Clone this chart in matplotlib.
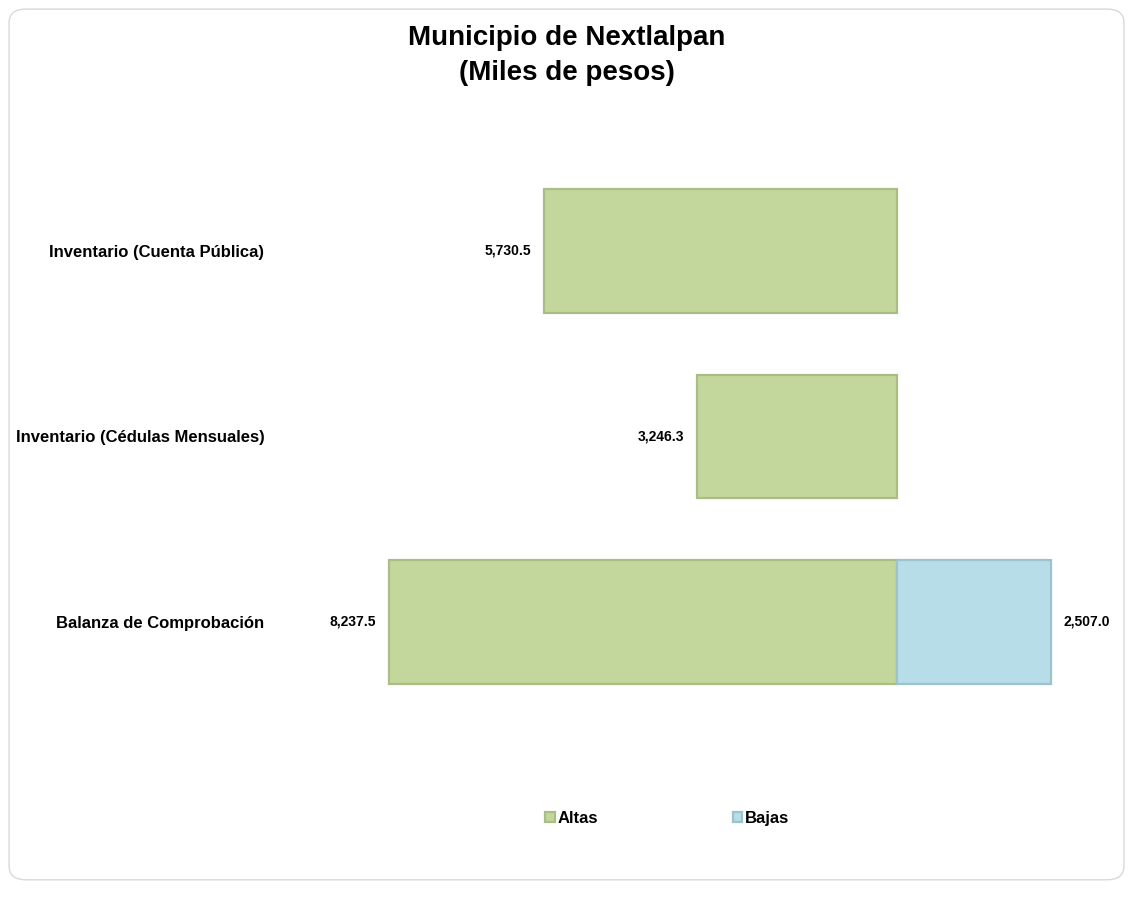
import matplotlib.pyplot as plt
import numpy as np
from matplotlib.patches import FancyBboxPatch

plt.rcParams['font.family'] = ['Liberation Sans', 'DejaVu Sans']

# Data (bottom to top)
categorias = ['Balanza de Comprobación', 'Inventario (Cédulas Mensuales)', 'Inventario (Cuenta Pública)']
altas = [8237.5, 3246.3, 5730.5]
bajas = [2507.0, 0.0, 0.0]

verde = '#c3d69b'
verde_borde = '#a9bd84'
azul = '#b7dde8'
azul_borde = '#9cc2cc'

fig = plt.figure(figsize=(11.33, 9.07), dpi=100)

# rounded frame around the whole chart
marco = FancyBboxPatch((0.008, 0.03), 0.984, 0.96, boxstyle='round,pad=0,rounding_size=0.015',
                       transform=fig.transFigure, facecolor='white', edgecolor='#d9d9d9',
                       linewidth=1.0, zorder=-1)
fig.add_artist(marco)

ax = fig.add_axes([0.2419, 0.14, 0.7402, 0.6946])
ax.set_zorder(2)
ax.patch.set_alpha(0)

y = np.arange(len(categorias))
alt = ax.barh(y, [-v for v in altas], height=0.665, color=verde, edgecolor=verde_borde,
              linewidth=1.6, label='Altas')
baj = ax.barh(y, bajas, height=0.665, color=azul, edgecolor=azul_borde,
              linewidth=1.6, label='Bajas')
for p, v in zip(baj, bajas):
    if v == 0:
        p.set_visible(False)

ax.bar_label(alt, labels=[f'{v:,.1f}' for v in altas], padding=9,
             fontsize=10, fontweight='bold')
ax.bar_label(baj, labels=[f'{v:,.1f}' if v > 0 else '' for v in bajas], padding=9,
             fontsize=10, fontweight='bold')

ax.set_xlim(-10100, 3500)
ax.set_ylim(-0.852, 2.544)
ax.set_yticks(y)
ax.set_yticklabels(categorias, fontsize=12, fontweight='bold')
ax.tick_params(axis='y', length=0, pad=7)
ax.set_xticks([])
for s in ax.spines.values():
    s.set_visible(False)

fig.text(0.5, 0.972, 'Municipio de Nextlalpan\n(Miles de pesos)', ha='center', va='top',
         fontsize=20, fontweight='bold', linespacing=1.45)

fig.legend(handles=[alt, baj], labels=['Altas', 'Bajas'], loc='center',
           bbox_to_anchor=(0.589, 0.098), ncol=2, frameon=False,
           handlelength=0.55, handleheight=0.55, handletextpad=0.2, columnspacing=8.05,
           prop={'weight': 'bold', 'size': 12})

fig.savefig('out.png', dpi=100)
